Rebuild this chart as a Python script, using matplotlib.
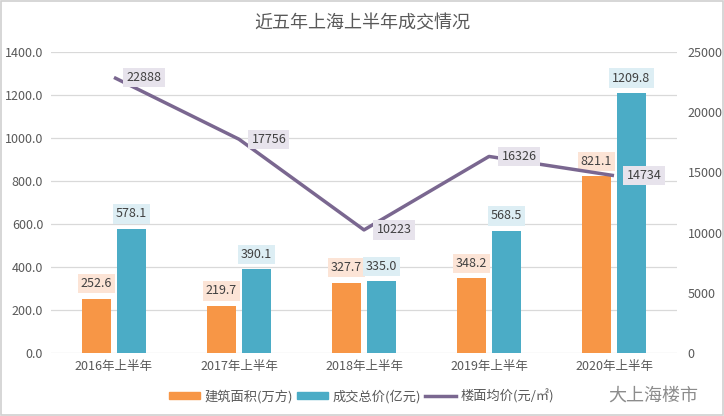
import matplotlib
matplotlib.use("Agg")
import matplotlib.pyplot as plt
import numpy as np
from matplotlib.patches import Rectangle
from matplotlib.lines import Line2D
from matplotlib.patches import Patch

plt.rcParams['font.family'] = ['Noto Sans CJK SC', 'DejaVu Sans']

categories = ["2016年上半年", "2017年上半年", "2018年上半年", "2019年上半年", "2020年上半年"]
area = [252.6, 219.7, 327.7, 348.2, 821.1]          # 建筑面积(万方)
total = [578.1, 390.1, 335.0, 568.5, 1209.8]        # 成交总价(亿元)
price = [22888, 17756, 10223, 16326, 14734]         # 楼面均价(元/㎡)
left_ticks = [0, 200, 400, 600, 800, 1000, 1200, 1400]
right_ticks = [0, 5000, 10000, 15000, 20000, 25000]

C_OR = "#F79646"
C_TE = "#4BACC6"
C_LN = "#7A6790"
TXT = "#595959"

fig = plt.figure(figsize=(7.24, 4.16), dpi=100)
ax = fig.add_axes([0.0711, 0.1514, 0.8633, 0.7236])
ax2 = ax.twinx()

x = np.arange(len(categories))
w = 0.23
off = 0.14
ax.bar(x - off, area, w, color=C_OR, zorder=3)
ax.bar(x + off, total, w, color=C_TE, zorder=3)

for xi, v in zip(x, area):
    ax.annotate(f"{v:.1f}", (xi - off, v), xytext=(0, 6), textcoords="offset points",
                ha="center", va="bottom", fontsize=9, color="#404040",
                bbox=dict(boxstyle="square,pad=0.25", fc="#FCE4D6", ec="none"), zorder=5)
for xi, v in zip(x, total):
    ax.annotate(f"{v:.1f}", (xi + off, v), xytext=(0, 6), textcoords="offset points",
                ha="center", va="bottom", fontsize=9, color="#404040",
                bbox=dict(boxstyle="square,pad=0.25", fc="#DDEEF4", ec="none"), zorder=5)

ax2.plot(x, price, color=C_LN, lw=2.5, zorder=4, solid_capstyle="butt")
for xi, v in zip(x, price):
    ax2.annotate(f"{v}", (xi, v), xytext=(9, 0), textcoords="offset points",
                 ha="left", va="center", fontsize=9, color="#404040",
                 bbox=dict(boxstyle="square,pad=0.25", fc="#E7E3EC", ec="none"), zorder=6)

ax.set_xlim(-0.5, 4.5)
ax.set_ylim(0, 1400)
ax2.set_ylim(0, 25000)
ax.set_yticks(left_ticks)
ax.set_yticklabels([f"{t:.1f}" for t in left_ticks])
ax2.set_yticks(right_ticks)
ax2.set_yticklabels([str(t) for t in right_ticks])
ax.set_xticks(x)
ax.set_xticklabels(categories)

for a in (ax, ax2):
    for s in a.spines.values():
        s.set_visible(False)
    a.tick_params(length=0, labelsize=9, colors=TXT)
ax.tick_params(axis="x", pad=5)
ax.tick_params(axis="y", pad=6)
ax2.tick_params(axis="y", pad=8)
ax.grid(axis="y", color="#D9D9D9", lw=0.9, zorder=0)
ax.set_axisbelow(True)
ax2.set_zorder(ax.get_zorder() + 1)
ax2.patch.set_visible(False)

fig.text(0.5, 0.945, "近五年上海上半年成交情况", ha="center", va="center",
         fontsize=13, color=TXT)

handles = [Patch(color=C_OR, label="建筑面积(万方)"),
           Patch(color=C_TE, label="成交总价(亿元)"),
           Line2D([0], [0], color=C_LN, lw=2.5, label="楼面均价(元/㎡)")]
fig.legend(handles=handles, loc="center", bbox_to_anchor=(0.499, 0.048), ncol=3,
           frameon=False, fontsize=9.5, handlelength=2.4, handleheight=0.5,
           handletextpad=0.3, columnspacing=0.3, labelcolor=TXT)

fig.text(0.965, 0.05, "大上海楼市", ha="right", va="center", fontsize=13, color="#8C8C8C")

fig.patches.append(Rectangle((0.002, 0.002), 0.996, 0.996, transform=fig.transFigure,
                             fill=False, ec="#D0D0D0", lw=1.2))

fig.savefig("out.png", dpi=100)
